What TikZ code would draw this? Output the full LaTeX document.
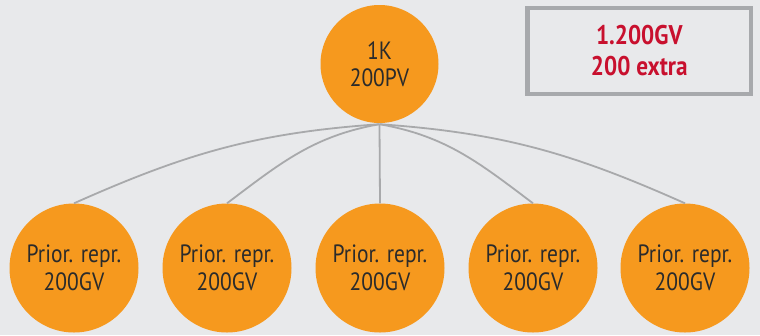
\documentclass[tikz,border=0pt]{standalone}
\usepackage{fontspec}
\setmainfont{PT Sans}[FakeStretch=0.86]
\definecolor{bgc}{HTML}{E8E9EB}
\definecolor{orangec}{HTML}{F6991E}
\definecolor{linec}{HTML}{A8A9AB}
\definecolor{boxc}{HTML}{A7A9AC}
\definecolor{redc}{HTML}{C8102E}
\definecolor{txtc}{HTML}{2B2B2B}
\tikzset{
  topnode/.style={circle, fill=orangec, inner sep=0pt, minimum size=118pt, align=center, text=txtc, font=\fontsize{25}{27}\selectfont},
  leafnode/.style={circle, fill=orangec, inner sep=0pt, minimum size=129pt, align=center, text=txtc, font=\fontsize{25}{28}\selectfont},
  conn/.style={draw=linec, line width=1.8pt},
  infobox/.style={draw=boxc, fill=bgc, line width=4.5pt, minimum width=223.5pt, minimum height=86pt, inner sep=0pt, align=center, text=redc, font=\bfseries\fontsize{27}{31}\selectfont}
}
\begin{document}
\begin{tikzpicture}[x=1pt,y=1pt]
\useasboundingbox (0,0) rectangle (760,-335);
\fill[bgc] (0,0) rectangle (760,-335);
\node[topnode] (top) at (379.5,-64) {1K\\200PV};
\node[leafnode] (b1) at (74,-268) {Prior. repr.\\200GV};
\node[leafnode] (b2) at (227,-268) {Prior. repr.\\200GV};
\node[leafnode] (b3) at (380,-268) {Prior. repr.\\200GV};
\node[leafnode] (b4) at (533,-268) {Prior. repr.\\200GV};
\node[leafnode] (b5) at (685,-268) {Prior. repr.\\200GV};
\coordinate (src) at ([yshift=-1pt]top.south);
\draw[conn] (src) to[out=184,in=24] (b1.north);
\draw[conn] (src) to[out=190,in=37] (b2.north);
\draw[conn] (src) -- (b3.north);
\draw[conn] (src) to[out=-10,in=143] (b4.north);
\draw[conn] (src) to[out=-4,in=156] (b5.north);
\node[infobox] (box) at (639.25,-50.75) {1.200GV\\200 extra};
\end{tikzpicture}
\end{document}
